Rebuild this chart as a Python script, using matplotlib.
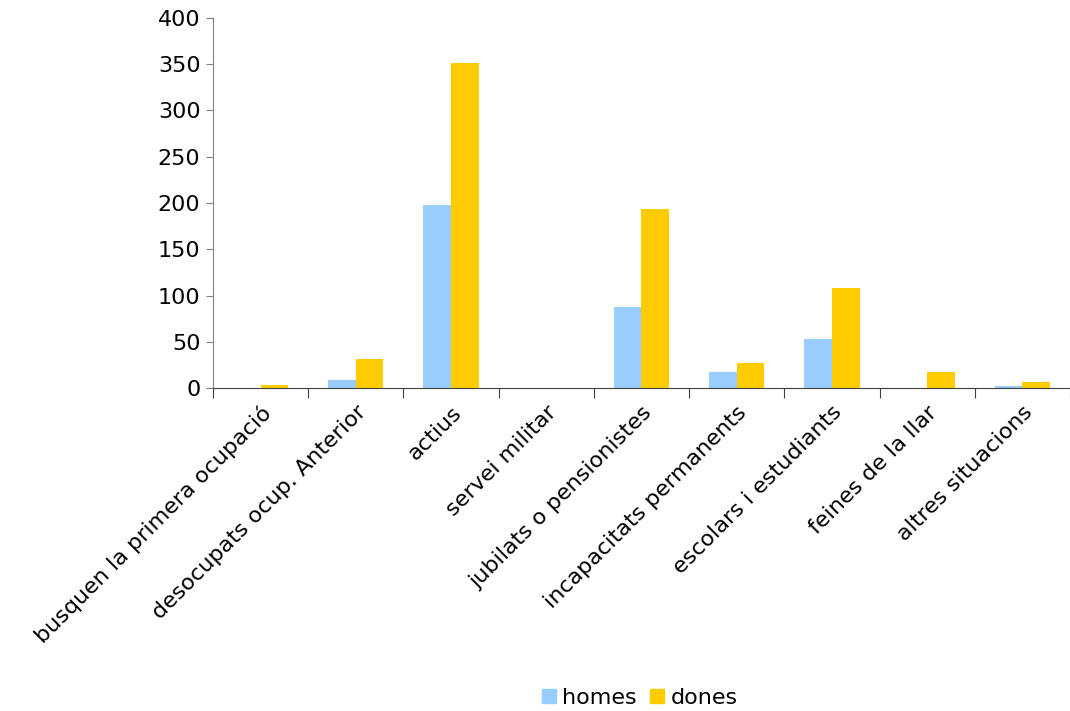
import numpy as np
import matplotlib.pyplot as plt
from matplotlib.patches import Patch

categories = ['busquen la primera ocupació', 'desocupats ocup. Anterior', 'actius',
              'servei militar', 'jubilats o pensionistes', 'incapacitats permanents',
              'escolars i estudiants', 'feines de la llar', 'altres situacions']
homes = [0, 9, 198, 0, 88, 17, 53, 0, 2]
dones = [4, 31, 351, 0, 194, 27, 108, 17, 7]

plt.rcParams['font.family'] = ['DejaVu Sans']

fig = plt.figure(figsize=(10.7, 7.11), dpi=100)
ax = fig.add_axes([0.199, 0.454, 0.801, 0.521])

x = np.arange(len(categories))
w = 0.29
ax.bar(x - w / 2, homes, w, color='#99ccff')
ax.bar(x + w / 2, dones, w, color='#ffcc00')

ax.set_xlim(-0.5, len(categories) - 0.5)
ax.set_ylim(0, 400)
ax.set_yticks(range(0, 401, 50))
ax.tick_params(axis='y', labelsize=16, length=5, color='#808080', pad=4)

ax.set_xticks(np.arange(len(categories) + 1) - 0.5)
ax.set_xticklabels([])
ax.tick_params(axis='x', length=7, color='#404040')
ax.set_xticks(x, minor=True)
ax.set_xticklabels(categories, minor=True, rotation=45, ha='right', va='top',
                   rotation_mode='anchor', fontsize=16)
ax.tick_params(axis='x', which='minor', length=0, pad=10)

for s in ['top', 'right']:
    ax.spines[s].set_visible(False)
ax.spines['left'].set_color('#808080')
ax.spines['bottom'].set_color('#404040')

handles = [Patch(color='#99ccff', label='homes'), Patch(color='#ffcc00', label='dones')]
fig.legend(handles=handles, loc='center', bbox_to_anchor=(0.598, 0.018), ncol=2,
           frameon=False, fontsize=16, handlelength=0.6, handleheight=0.6,
           handletextpad=0.3, columnspacing=0.6)

fig.savefig('out.png', dpi=100)
